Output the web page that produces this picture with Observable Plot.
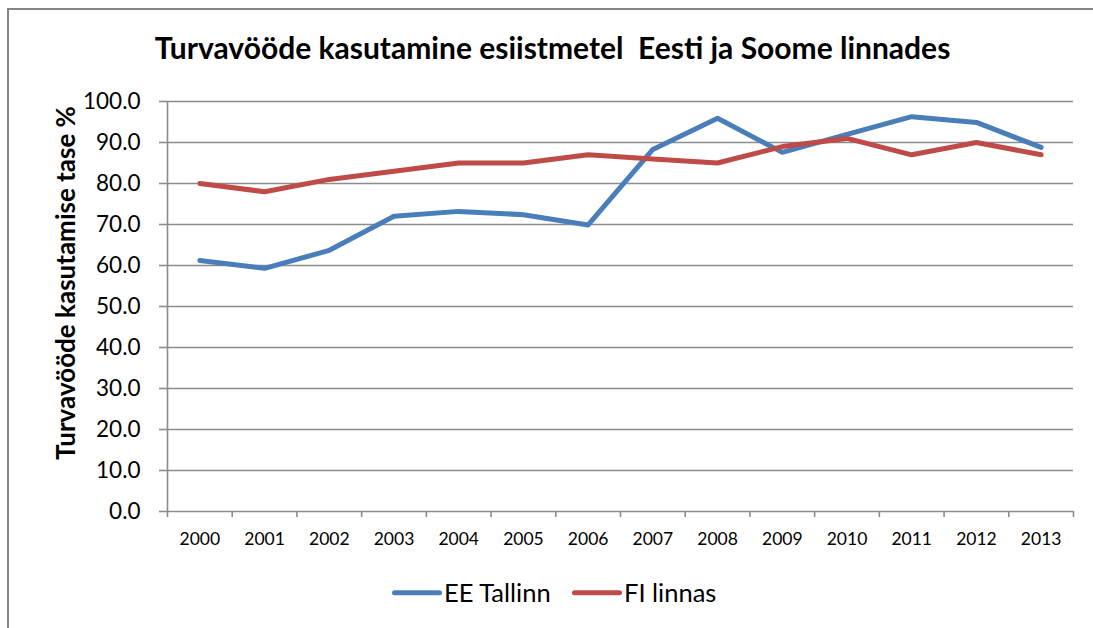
<!DOCTYPE html>
<html>
<head>
<meta charset="utf-8">
<script src="https://cdn.jsdelivr.net/npm/d3@7"></script>
<script src="https://cdn.jsdelivr.net/npm/@observablehq/plot@0.6"></script>
<style>
  html, body { margin: 0; padding: 0; background: #fff; }
  #wrap { position: relative; width: 1093px; height: 628px; overflow: hidden; font-family: Lato, "Open Sans", "Liberation Sans", sans-serif; }
  #frame { position: absolute; left: 7px; top: 8px; width: 1200px; height: 800px; border-left: 2px solid #868686; border-top: 2px solid #868686; box-sizing: border-box; }
  #title { position: absolute; left: 0; width: 1105px; top: 47px; transform: translateY(-50%); text-align: center; font-weight: bold; font-size: 30px; line-height: 1; color: #000; white-space: pre; }
  #chart { position: absolute; left: 0; top: 80px; }
  #ylab { position: absolute; left: 65px; top: 283px; transform: translate(-50%, -50%) rotate(-90deg); font-weight: bold; font-size: 26px; line-height: 1; white-space: nowrap; color: #000; }
  #legend { position: absolute; top: 593px; left: 0; width: 1093px; font-size: 25.5px; color: #000; }
  .li { position: absolute; display: flex; align-items: center; white-space: nowrap; transform: translateY(-50%); line-height: 1; }
  .sw { display: inline-block; width: 50px; height: 5px; border-radius: 2.5px; margin-right: 2px; }
</style>
</head>
<body>
<div id="wrap">
  <div id="frame"></div>
  <div id="title"></div>
  <div id="chart"></div>
  <div id="ylab"></div>
  <div id="legend"></div>
</div>
<script>
const title = "Turvavööde kasutamine esiistmetel  Eesti ja Soome linnades";
const yLabel = "Turvavööde kasutamise tase %";
const years = ["2000","2001","2002","2003","2004","2005","2006","2007","2008","2009","2010","2011","2012","2013"];
const seriesNames = ["EE Tallinn", "FI linnas"];
const eeTallinn = [61.2, 59.3, 63.7, 72.0, 73.2, 72.4, 69.9, 88.3, 95.9, 87.6, 92.0, 96.3, 94.9, 88.8];
const fiLinnas = [80.0, 78.0, 81.0, 83.0, 85.0, 85.0, 87.0, 86.0, 85.0, 89.0, 91.0, 87.0, 90.0, 87.0];
const colors = ["#4A7EBB", "#BE4B48"];
const yTicks = [0,10,20,30,40,50,60,70,80,90,100];

const data = [];
[eeTallinn, fiLinnas].forEach((vals, s) => vals.forEach((v, i) => data.push({i, year: years[i], value: v, series: seriesNames[s]})));

const boundaries = d3.range(years.length + 1).map(k => k - 0.5);
const grid = "#8c8c8c";

const plot = Plot.plot({
  width: 1093,
  height: 470,
  marginLeft: 167,
  marginRight: 20,
  marginTop: 21,
  marginBottom: 39,
  style: { fontFamily: 'Lato, "Open Sans", "Liberation Sans", sans-serif', background: "transparent", color: "#000" },
  x: { type: "linear", domain: [-0.5, years.length - 0.5] },
  y: { domain: [0, 100] },
  color: { domain: seriesNames, range: colors },
  marks: [
    Plot.ruleY(yTicks.filter(t => t > 0), { stroke: grid, strokeWidth: 1.6 }),
    Plot.axisY({ ticks: yTicks, tickFormat: d => d.toFixed(1), tickSize: 8, tickPadding: 19, fontSize: 22.5, stroke: grid, strokeWidth: 1.6, strokeOpacity: 1, label: null }),
    Plot.ruleX([-0.5], { stroke: grid, strokeWidth: 1.6 }),
    Plot.ruleY([0], { stroke: grid, strokeWidth: 1.6 }),
    Plot.axisX({ ticks: boundaries, tickFormat: () => "", tickSize: 6, stroke: grid, strokeWidth: 1.6, strokeOpacity: 1, label: null }),
    Plot.axisX({ ticks: d3.range(years.length), tickFormat: i => years[i], tickSize: 0, tickPadding: 21, fontSize: 17.5, label: null }),
    Plot.line(data, { x: "i", y: "value", z: "series", stroke: "series", strokeWidth: 5, strokeLinejoin: "round", strokeLinecap: "round" })
  ]
});
document.getElementById("chart").appendChild(plot);
document.getElementById("title").textContent = title;
document.getElementById("ylab").textContent = yLabel;

const legend = document.getElementById("legend");
const lefts = [392, 572];
seriesNames.forEach((name, s) => {
  const el = document.createElement("div");
  el.className = "li";
  el.style.left = lefts[s] + "px";
  const sw = document.createElement("span");
  sw.className = "sw";
  sw.style.background = colors[s];
  el.appendChild(sw);
  const t = document.createElement("span");
  t.textContent = name;
  el.appendChild(t);
  legend.appendChild(el);
});
</script>
</body>
</html>
